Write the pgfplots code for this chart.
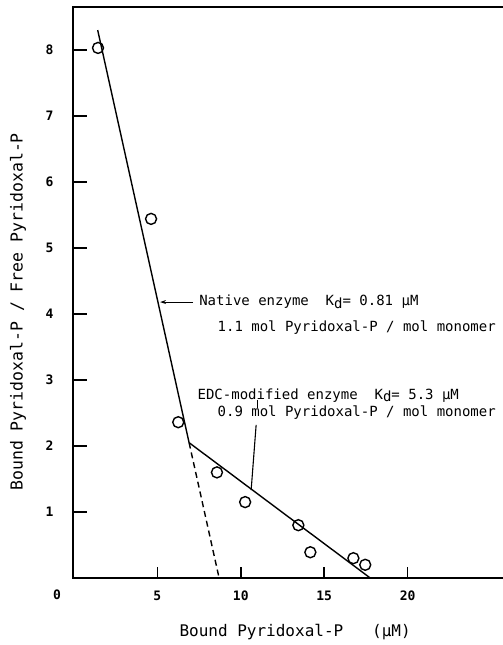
\documentclass[border=0pt]{standalone}
\usepackage{fontspec}
\setmainfont{DejaVu Sans Mono}
\usepackage{pgfplots}
\pgfplotsset{compat=1.18}
\usetikzlibrary{arrows.meta}

\begin{document}
\begin{tikzpicture}
\useasboundingbox (0,0) rectangle (503pt,645pt);
\begin{axis}[
  at={(73pt,67pt)}, anchor=south west,
  scale only axis, width=433pt, height=571pt,
  xmin=-0.06, xmax=25.9, ymin=0, ymax=8.65,
  clip=false,
  axis line style={line width=2.2pt},
  xtick={5,10,15,20}, ytick={1,2,3,4,5,6,7,8},
  xtick pos=left, ytick pos=left,
  major tick length=0pt,
  /pgf/number format/assume math mode=true,
  ticklabel style={font=\fontsize{13}{15}\selectfont\bfseries},
  xticklabel style={yshift=-9pt},
  yticklabel style={xshift=-16pt},
  xlabel={Bound Pyridoxal-P~~~(µM)},
  ylabel={Bound Pyridoxal-P / Free Pyridoxal-P},
  xlabel style={font=\fontsize{16}{19}\selectfont, at={(axis description cs:0.513,0)}, anchor=center, yshift=-54pt},
  ylabel style={font=\fontsize{16.5}{19}\selectfont, at={(axis description cs:0,0.466)}, anchor=center, yshift=55pt},
  tk/.style={black, line width=1.7pt, forget plot},
]
% inward tick marks on the left and bottom axes
\addplot[tk] coordinates {(-0.06,1) (0.80,1)};
\addplot[tk] coordinates {(-0.06,2) (0.80,2)};
\addplot[tk] coordinates {(-0.06,3) (0.80,3)};
\addplot[tk] coordinates {(-0.06,4) (0.80,4)};
\addplot[tk] coordinates {(-0.06,5) (0.80,5)};
\addplot[tk] coordinates {(-0.06,6) (0.80,6)};
\addplot[tk] coordinates {(-0.06,7) (0.80,7)};
\addplot[tk] coordinates {(-0.06,8) (0.80,8)};
\addplot[tk] coordinates {(5,0) (5,0.16)};
\addplot[tk] coordinates {(10,0) (10,0.16)};
\addplot[tk] coordinates {(15,0) (15,0.16)};
\addplot[tk] coordinates {(20,0) (20,0.16)};
\node[font=\fontsize{13}{15}\selectfont\bfseries] at (axis cs:0,0) [xshift=-17pt, yshift=-17pt] {0};

% fitted lines
\addplot[black, line width=1.4pt] coordinates {(1.42,8.30) (6.90,2.05) (17.76,0)};
\addplot[black, line width=1.4pt, dash pattern=on 6pt off 4pt] coordinates {(6.90,2.05) (8.70,0)};

% measured points
\addplot[only marks, mark=o, mark size=5.5pt, mark options={line width=1.4pt, fill=white}] coordinates {
  (1.44,8.03) (4.62,5.44) (6.25,2.36) (8.57,1.60) (10.26,1.15)
  (13.45,0.80) (14.17,0.39) (16.75,0.30) (17.46,0.20)
};

% annotations
\draw[line width=1.1pt, -{Stealth[length=6pt,width=4pt]}] (axis cs:7.14,4.18) -- (axis cs:5.16,4.18);
\draw[line width=1.1pt] (axis cs:10.98,2.70) -- (axis cs:10.98,2.58);
\draw[line width=1.1pt] (axis cs:10.92,2.32) -- (axis cs:10.62,1.33);
\begin{scope}[every node/.style={anchor=west, inner sep=0pt, font=\fontsize{14}{17}\selectfont}]
\node at (axis cs:7.50,4.18) {Native enzyme~~K\raisebox{-0.35ex}{d}= 0.81 µM};
\node at (axis cs:8.60,3.79) {1.1 mol Pyridoxal-P / mol monomer};
\node at (axis cs:7.40,2.77) {EDC-modified enzyme~~K\raisebox{-0.35ex}{d}= 5.3 µM};
\node at (axis cs:8.60,2.50) {0.9 mol Pyridoxal-P / mol monomer};
\end{scope}
\end{axis}
\end{tikzpicture}
\end{document}
